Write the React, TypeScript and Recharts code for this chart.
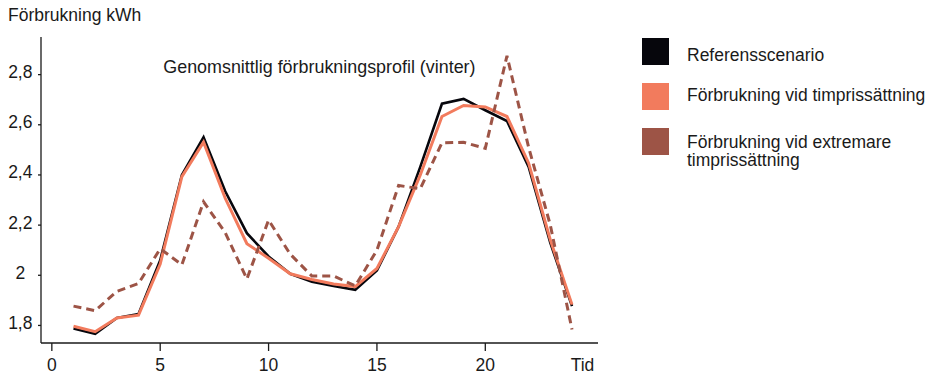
import React from 'react';
import { LineChart, Line, XAxis, YAxis } from 'recharts';

// Hour of day (1–24)
const hours = [1, 2, 3, 4, 5, 6, 7, 8, 9, 10, 11, 12, 13, 14, 15, 16, 17, 18, 19, 20, 21, 22, 23, 24];

// Average winter consumption per hour, kWh
const referens = [1.788, 1.767, 1.83, 1.846, 2.06, 2.4, 2.55, 2.335, 2.168, 2.075, 2.006, 1.974, 1.957, 1.942, 2.019, 2.194, 2.432, 2.684, 2.703, 2.658, 2.615, 2.432, 2.129, 1.877];
const timpris = [1.797, 1.775, 1.83, 1.841, 2.045, 2.393, 2.531, 2.307, 2.126, 2.068, 2.006, 1.983, 1.965, 1.955, 2.027, 2.194, 2.4, 2.633, 2.677, 2.671, 2.633, 2.447, 2.141, 1.883];
const extrem = [1.877, 1.859, 1.936, 1.967, 2.106, 2.042, 2.293, 2.17, 1.985, 2.22, 2.084, 1.997, 1.997, 1.958, 2.1, 2.358, 2.345, 2.528, 2.53, 2.506, 2.875, 2.51, 2.2, 1.784];

const seriesNames = ['Referensscenario', 'Förbrukning vid timprissättning', 'Förbrukning vid extremare timprissättning'];
const seriesColors = ['#06060c', '#f27b5d', '#9d5446'];

const xTicks = [0, 5, 10, 15, 20];
const yTicks = [1.8, 2.0, 2.2, 2.4, 2.6, 2.8];
const xAxisName = 'Tid';
const yAxisName = 'Förbrukning kWh';
const chartTitle = 'Genomsnittlig förbrukningsprofil (vinter)';

const data = hours.map((h, i) => ({ hour: h, ref: referens[i], tim: timpris[i], ext: extrem[i] }));

const FONT = '"Liberation Sans", Arial, Helvetica, sans-serif';
const FS = 17.5;
const TEXT = '#1a1a1a';
const AXIS = '#1a1a1a';

const fmtY = (v: number) => (Math.abs(v - 2) < 1e-9 ? '2' : v.toFixed(1).replace('.', ','));

const YTick = (props: any) => {
  const { y, payload } = props;
  return (
    <text x={20.3} y={y + 3.5} textAnchor="middle" fontSize={FS} fill={TEXT} fontFamily={FONT}>
      {fmtY(payload.value)}
    </text>
  );
};

const XTick = (props: any) => {
  const { x, y, payload } = props;
  return (
    <text x={x} y={y + 17.8} textAnchor="middle" fontSize={FS} fill={TEXT} fontFamily={FONT}>
      {payload.value}
    </text>
  );
};

// Legend drawn beside the plot: colour swatch + series name
const SeriesLegend = () => {
  const squareTops = [38.3, 82.7, 128.3];
  const textTops = [45.6, 86.3, 132.9];
  return (
    <>
      {seriesNames.map((name, i) => (
        <React.Fragment key={name}>
          <div
            style={{
              position: 'absolute',
              left: 642,
              top: squareTops[i],
              width: 27,
              height: 27,
              background: seriesColors[i],
            }}
          />
          <div
            style={{
              position: 'absolute',
              left: 687,
              top: textTops[i],
              width: 243,
              fontSize: FS,
              lineHeight: '18.5px',
              color: TEXT,
              fontFamily: FONT,
              whiteSpace: i < 2 ? 'nowrap' : 'normal',
            }}
          >
            {name}
          </div>
        </React.Fragment>
      ))}
    </>
  );
};

export default function App() {
  return (
    <div
      style={{
        position: 'fixed',
        left: 0,
        top: 0,
        width: 931,
        height: 375,
        background: '#ffffff',
        fontFamily: FONT,
      }}
    >
      <LineChart
        width={931}
        height={375}
        data={data}
        margin={{ top: 37, right: 333, bottom: 2, left: 0 }}
      >
        <XAxis
          dataKey="hour"
          type="number"
          domain={[-0.5, 25.2]}
          allowDataOverflow
          ticks={xTicks}
          tickSize={8}
          height={30}
          stroke={AXIS}
          strokeWidth={1.3}
          tick={<XTick />}
          label={{
            content: () => (
              <text x={582.5} y={370.8} textAnchor="middle" fontSize={FS} fill={TEXT} fontFamily={FONT}>
                {xAxisName}
              </text>
            ),
          }}
        />
        <YAxis
          type="number"
          domain={[1.73, 2.95]}
          allowDataOverflow
          ticks={yTicks}
          tickSize={3}
          width={41}
          stroke={AXIS}
          strokeWidth={1.3}
          tick={<YTick />}
          label={{
            content: () => (
              <text x={8} y={21} fontSize={FS} fill={TEXT} fontFamily={FONT}>
                {yAxisName}
              </text>
            ),
          }}
        />
        <Line
          type="linear"
          dataKey="ref"
          name={seriesNames[0]}
          stroke={seriesColors[0]}
          strokeWidth={2.6}
          dot={false}
          isAnimationActive={false}
        />
        <Line
          type="linear"
          dataKey="tim"
          name={seriesNames[1]}
          stroke={seriesColors[1]}
          strokeWidth={3}
          dot={false}
          isAnimationActive={false}
        />
        <Line
          type="linear"
          dataKey="ext"
          name={seriesNames[2]}
          stroke={seriesColors[2]}
          strokeWidth={3}
          strokeDasharray="8 5"
          dot={false}
          isAnimationActive={false}
        />
      </LineChart>
      <div
        style={{
          position: 'absolute',
          left: 163.3,
          top: 57.5,
          fontSize: 17.9,
          lineHeight: '19px',
          color: TEXT,
          fontFamily: FONT,
          whiteSpace: 'nowrap',
        }}
      >
        {chartTitle}
      </div>
      <SeriesLegend />
    </div>
  );
}
